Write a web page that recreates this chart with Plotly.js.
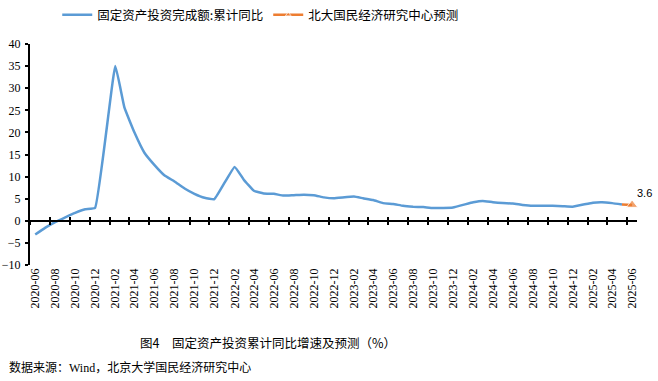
<!DOCTYPE html>
<html>
<head>
<meta charset="utf-8">
<script src="https://cdn.plot.ly/plotly-3.0.1.min.js"></script>
<style>html,body{margin:0;padding:0;background:#fff;}#chart{width:658px;height:381px;}</style>
</head>
<body>
<div id="chart"></div>
<script>
// ---- data ----
const months = [
  "2020-06","2020-07","2020-08","2020-09","2020-10","2020-11","2020-12",
  "2021-02","2021-03","2021-04","2021-05","2021-06","2021-07","2021-08","2021-09","2021-10","2021-11","2021-12",
  "2022-02","2022-03","2022-04","2022-05","2022-06","2022-07","2022-08","2022-09","2022-10","2022-11","2022-12",
  "2023-02","2023-03","2023-04","2023-05","2023-06","2023-07","2023-08","2023-09","2023-10","2023-11","2023-12",
  "2024-02","2024-03","2024-04","2024-05","2024-06","2024-07","2024-08","2024-09","2024-10","2024-11","2024-12",
  "2025-02","2025-03","2025-04","2025-05"
];
const faiYoY = [
  -3.1,-1.6,-0.3,0.8,1.8,2.6,2.9,
  35.0,25.6,19.9,15.4,12.6,10.3,8.9,7.3,6.1,5.2,4.9,
  12.2,9.3,6.8,6.2,6.1,5.7,5.8,5.9,5.8,5.3,5.1,
  5.5,5.1,4.7,4.0,3.8,3.4,3.2,3.1,2.9,2.9,3.0,
  4.2,4.5,4.2,4.0,3.9,3.6,3.4,3.4,3.4,3.3,3.2,
  4.1,4.2,4.0,3.7
];
const forecastMonths = ["2025-05","2025-06"];
const forecastValues = [3.7, 3.6];
const tickLabels = [
  "2020-06","2020-08","2020-10","2020-12","2021-02","2021-04","2021-06","2021-08","2021-10","2021-12",
  "2022-02","2022-04","2022-06","2022-08","2022-10","2022-12","2023-02","2023-04","2023-06","2023-08",
  "2023-10","2023-12","2024-02","2024-04","2024-06","2024-08","2024-10","2024-12","2025-02","2025-04","2025-06"
];
const seriesNames = ["固定资产投资完成额:累计同比", "北大国民经济研究中心预测"];
const captionText = "图4　固定资产投资累计同比增速及预测（%）";
const sourceText = "数据来源：<span style=\"font-family:'Liberation Serif'\">Wind</span>，北京大学国民经济研究中心";

// ---- helpers ----
function midPrev(label) { // midpoint of the previous month (tick boundary)
  const [y, m] = label.split("-").map(Number);
  const d = new Date(Date.UTC(y, m - 1, 1));
  const p = new Date(Date.UTC(y, m - 2, 1));
  return new Date((d.getTime() + p.getTime()) / 2).toISOString().slice(0, 10);
}
function midNext(label) {
  const [y, m] = label.split("-").map(Number);
  const d = new Date(Date.UTC(y, m - 1, 1));
  const n = new Date(Date.UTC(y, m, 1));
  return new Date((d.getTime() + n.getTime()) / 2).toISOString().slice(0, 10);
}
const xStart = midPrev(months[0]);
const xEnd = midNext(forecastMonths[forecastMonths.length - 1]);
const tickMarks = tickLabels.map(midPrev);

const serif = "'Liberation Serif', 'Times New Roman', serif";
const cjk = "'Noto Sans CJK SC', 'Noto Sans', sans-serif";

const traces = [
  {
    x: months, y: faiYoY, type: "scatter", mode: "lines", name: seriesNames[0],
    line: {color: "#5B9BD5", width: 2.5, shape: "spline", smoothing: 0.3}
  },
  {
    x: forecastMonths, y: forecastValues, type: "scatter", mode: "lines+markers", name: seriesNames[1],
    line: {color: "#ED7D31", width: 2.5},
    marker: {symbol: "triangle-up", color: "#ED7D31", size: forecastValues.map((v, i) => i === forecastValues.length - 1 ? 10 : 0)},
    cliponaxis: false
  },
  {x: [], y: [], xaxis: "x2", showlegend: false, hoverinfo: "skip"},
  {x: [], y: [], xaxis: "x3", showlegend: false, hoverinfo: "skip"}
];

const zeroPos = (0 - (-10)) / (40 - (-10));
const tickAxis = (dir) => ({
  type: "date", overlaying: "x", anchor: "free", position: zeroPos, side: "bottom",
  range: [xStart, xEnd], showline: true, linecolor: "#000", linewidth: 2,
  ticks: dir, ticklen: 3, tickwidth: 2, tickcolor: "#000",
  tickmode: "array", tickvals: tickMarks, showticklabels: false, showgrid: false, zeroline: false, fixedrange: true
});

const lastI = forecastValues.length - 1;
const layout = {
  width: 658, height: 381,
  margin: {l: 30, r: 21, t: 44, b: 116, autoexpand: false},
  paper_bgcolor: "#fff", plot_bgcolor: "#fff",
  showlegend: true,
  legend: {
    orientation: "h", xref: "container", yref: "container",
    x: 0.087, xanchor: "left", y: 1, yanchor: "top",
    font: {family: cjk, size: 12.5, color: "#000"}, bgcolor: "rgba(0,0,0,0)"
  },
  xaxis: {
    type: "date", range: [xStart, xEnd],
    tickmode: "array", tickvals: tickLabels, ticktext: tickLabels,
    tickangle: -90, ticks: "", showline: false, showgrid: false, zeroline: false,
    tickfont: {family: serif, size: 12, color: "#000"}
  },
  xaxis2: tickAxis("outside"),
  xaxis3: tickAxis("inside"),
  yaxis: {
    range: [-10, 40], dtick: 5, tick0: 0,
    showline: true, linecolor: "#000", linewidth: 2,
    ticks: "outside", ticklen: 3, tickwidth: 2, tickcolor: "#000",
    showgrid: false, zeroline: false, ticklabelstandoff: 2,
    tickfont: {family: serif, size: 12, color: "#000"}
  },
  annotations: [
    {
      x: forecastMonths[lastI], y: forecastValues[lastI], xref: "x", yref: "y",
      text: String(forecastValues[lastI]), showarrow: false,
      xanchor: "left", yanchor: "bottom", xshift: 3, yshift: 4,
      font: {family: "'Liberation Sans', Arial, sans-serif", size: 11, color: "#000"}
    },
    {
      x: 0.392, y: -0.352, xref: "paper", yref: "paper", text: captionText, showarrow: false,
      xanchor: "center", yanchor: "middle", font: {family: cjk, size: 12.5, color: "#000"}
    },
    {
      x: -0.0379, y: -0.4615, xref: "paper", yref: "paper", text: sourceText, showarrow: false,
      xanchor: "left", yanchor: "middle", font: {family: cjk, size: 12, color: "#000"}
    }
  ]
};

Plotly.newPlot("chart", traces, layout, {staticPlot: true, displayModeBar: false});
</script>
</body>
</html>
